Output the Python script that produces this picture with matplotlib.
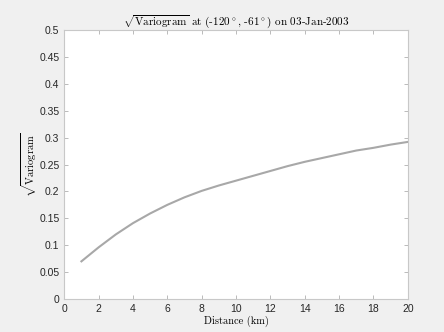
import matplotlib
matplotlib.use("Agg")
import matplotlib.pyplot as plt
import numpy as np

distance_km = [1, 2, 3, 4, 5, 6, 7, 8, 9, 10, 11, 12, 13, 14, 15, 16, 17, 18, 19, 20]
sqrt_variogram = [0.070, 0.096, 0.120, 0.141, 0.159, 0.175, 0.189, 0.201, 0.211, 0.220,
                  0.229, 0.238, 0.247, 0.255, 0.262, 0.269, 0.276, 0.281, 0.287, 0.292]
xticks = [0, 2, 4, 6, 8, 10, 12, 14, 16, 18, 20]
yticks = [0, 0.05, 0.1, 0.15, 0.2, 0.25, 0.3, 0.35, 0.4, 0.45, 0.5]
ytick_labels = ["0", "0.05", "0.1", "0.15", "0.2", "0.25", "0.3", "0.35", "0.4", "0.45", "0.5"]

plt.rcParams['mathtext.fontset'] = 'cm'

fig = plt.figure(figsize=(4.44, 3.32), dpi=100, facecolor='#f0f0f0')
ax = fig.add_axes([0.1447, 0.0994, 0.7739, 0.8102])
ax.set_facecolor('white')
ax.plot(distance_km, sqrt_variogram, color='#a8a8a8', linewidth=1.5)
ax.set_xlim(0, 20)
ax.set_ylim(0, 0.5)
ax.set_xticks(xticks)
ax.set_xticklabels([str(t) for t in xticks])
ax.set_yticks(yticks)
ax.set_yticklabels(ytick_labels)
for sp in ax.spines.values():
    sp.set_color('#c8c8c8')
    sp.set_linewidth(0.8)
ax.tick_params(direction='in', length=3, width=0.6, color='#b0b0b0',
               labelsize=7.5, labelcolor='#262626', top=True, right=True)
for lab in ax.get_xticklabels() + ax.get_yticklabels():
    lab.set_family('Liberation Sans')

ax.set_title(r'$\sqrt{\mathrm{Variogram}}$ at (-120$^\circ$, -61$^\circ$) on 03-Jan-2003',
             family='cmr10', fontsize=8, pad=4)
ax.set_xlabel('Distance (km)', family='cmr10', fontsize=7.5, labelpad=1)
ax.set_ylabel(r'$\sqrt{\mathrm{Variogram}}$', fontsize=7.5, labelpad=0)

fig.savefig('out.png', dpi=100, facecolor=fig.get_facecolor())
